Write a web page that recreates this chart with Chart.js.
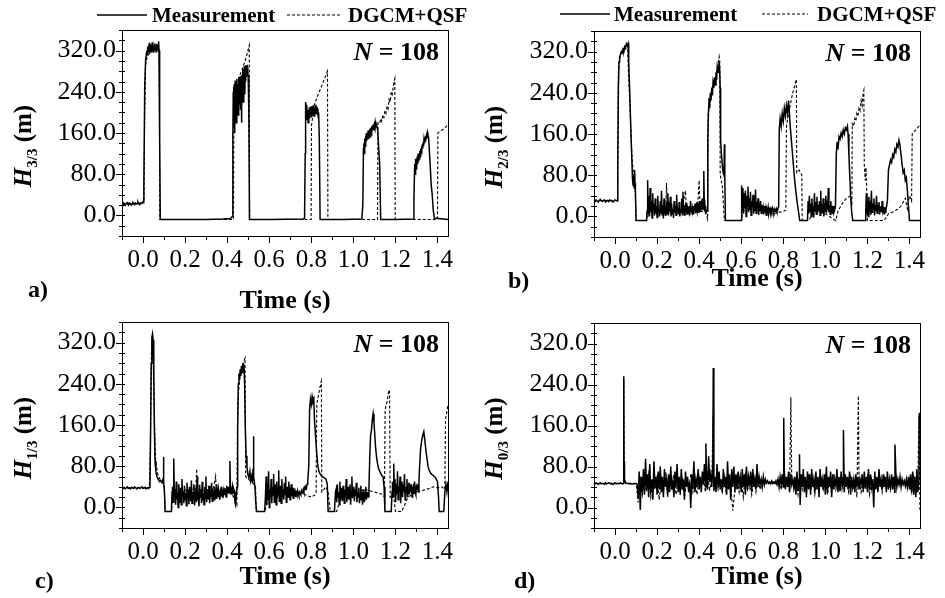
<!DOCTYPE html>
<html>
<head>
<meta charset="utf-8">
<script src="https://cdn.jsdelivr.net/npm/chart.js@4.4.0/dist/chart.umd.min.js"></script>
<style>
    body { margin: 0; background: #fff; }
    #wrap { position: relative; width: 945px; height: 598px; overflow: hidden; }
    canvas { position: absolute; }
</style>
</head>
<body>
<div id="wrap">
    <canvas id="chartA" width="472" height="320" style="left:0;top:0"></canvas>
    <canvas id="chartB" width="473" height="320" style="left:472px;top:0"></canvas>
    <canvas id="chartC" width="472" height="299" style="left:0;top:299px"></canvas>
    <canvas id="chartD" width="473" height="299" style="left:472px;top:299px"></canvas>
</div>
<script>
// axis ticks
const xLabels = [0, 0.2, 0.4, 0.6, 0.8, 1.0, 1.2, 1.4];
const yLabels = [0, 80, 160, 240, 320];

// ---- a) H 3/3 ----
const aMeasKeys = [
    [0.004, 60], [0.008, 250], [0.012, 300], [0.016, 315],
    [0.076, 320], [0.079, 150], [0.082, -8],
    [0.2, -8], [0.3, -8], [0.38, -7], [0.415, -6], [0.42, -4],
    [0.424, -2], [0.427, 150], [0.429, 240],
    [0.503, 200], [0.506, -8],
    [0.6, -8], [0.76, -7], [0.768, -6], [0.771, 120], [0.773, 220],
    [0.838, 150], [0.842, -8],
    [0.95, -8], [1.04, -7], [1.045, 20], [1.048, 130],
    [1.115, 170], [1.125, 100], [1.13, -8],
    [1.2, -8], [1.285, -7], [1.288, 30], [1.291, 90],
    [1.358, 150], [1.365, 100], [1.37, 60], [1.375, 40], [1.38, 10], [1.385, -5], [1.45, -8]
];
const aMeasPre = [23, 21, 24, 22, 20, 23, 25, 22, 21, 24, 23, 20, 22, 25, 23, 21, 24, 22, 23, 26, 22, 21, 24, 23, 25, 27];
const aMeasP1 = [320, 312, 328, 318, 330, 322, 335, 315, 326, 332, 318, 329, 324, 336, 320, 327, 331, 316, 325, 334, 322, 330, 318, 328, 333, 321, 326, 330, 338];
const aMeasP2 = [250, 170, 255, 160, 262, 200, 248, 180, 265, 210, 255, 195, 268, 230, 250, 215, 270, 205, 260, 180, 272, 240, 285, 220, 275, 250, 290, 235, 280, 260, 292, 270, 285, 288, 280, 270];
const aMeasP3 = [210, 185, 215, 190, 205, 180, 200, 192, 210, 188, 205, 195, 212, 200, 190, 208, 196, 214, 202, 193, 210, 205, 198, 215, 207, 200, 212, 196, 208, 190, 200];
const aMeasP4 = [140, 120, 150, 135, 155, 140, 160, 145, 158, 150, 165, 148, 162, 155, 168, 152, 170, 160, 172, 158, 175, 165, 170, 178, 168, 176, 172, 180, 174, 178, 175];
const aMeasP5 = [100, 80, 110, 90, 105, 95, 115, 100, 120, 105, 118, 110, 125, 115, 130, 120, 135, 125, 138, 130, 142, 135, 148, 140, 152, 145, 155, 150, 160, 155, 162, 158];
const aModel = [
    [-0.1, 23], [0.004, 24], [0.008, 200], [0.012, 290], [0.02, 310], [0.04, 318], [0.06, 322], [0.075, 326], [0.077, 320], [0.08, -8],
    [0.43, -8], [0.432, 200], [0.436, 250], [0.45, 262], [0.47, 282], [0.49, 306], [0.505, 330], [0.507, -8],
    [0.799, -8], [0.801, 175], [0.81, 200], [0.814, 214], [0.83, 232], [0.85, 252], [0.877, 280], [0.879, -8],
    [1.115, -8], [1.117, 180], [1.125, 178], [1.13, 188], [1.135, 183], [1.14, 195], [1.145, 190], [1.15, 203], [1.155, 198],
    [1.16, 212], [1.165, 207], [1.17, 225], [1.175, 220], [1.18, 240], [1.185, 235], [1.19, 252], [1.197, 265], [1.199, -8],
    [1.4, -8], [1.402, 160], [1.42, 165], [1.44, 172], [1.45, 178]
];

// ---- b) H 2/3 ----
const bMeasKeys = [
    [0.013, 100], [0.016, 250], [0.019, 300], [0.022, 310], [0.026, 315], [0.03, 320], [0.034, 318], [0.038, 325], [0.042, 322],
    [0.046, 330], [0.05, 328], [0.054, 335], [0.058, 332], [0.062, 336],
    [0.065, 300], [0.07, 240], [0.075, 170], [0.08, 110], [0.083, 72], [0.086, 60], [0.089, 80], [0.091, 55], [0.093, 90],
    [0.095, 65], [0.097, 50], [0.1, -8], [0.15, -8],
    [0.438, 10], [0.441, 150], [0.444, 200], [0.447, 230], [0.45, 210], [0.453, 240], [0.456, 225], [0.46, 250], [0.463, 235],
    [0.466, 260], [0.47, 250], [0.473, 270], [0.476, 255], [0.48, 280], [0.483, 265], [0.486, 290], [0.49, 280], [0.494, 300],
    [0.497, 290], [0.5, 250], [0.502, 150], [0.506, 120], [0.51, 100], [0.514, 85], [0.518, 80], [0.52, 140], [0.522, 70],
    [0.525, -8], [0.6, -8],
    [0.778, 20], [0.781, 170], [0.785, 190], [0.79, 175], [0.795, 200], [0.8, 185], [0.805, 210], [0.81, 195], [0.815, 215],
    [0.82, 200], [0.825, 225], [0.828, 210], [0.832, 180], [0.838, 150], [0.843, 125], [0.848, 100], [0.853, 75], [0.858, 55],
    [0.865, 30], [0.872, 10], [0.878, -8], [0.915, -8],
    [1.048, 20], [1.052, 120], [1.056, 145], [1.06, 130], [1.065, 155], [1.07, 150], [1.075, 162], [1.08, 155], [1.085, 168],
    [1.09, 160], [1.095, 172], [1.1, 168], [1.105, 175], [1.108, 160], [1.112, 120], [1.116, 80], [1.12, 40], [1.125, 10],
    [1.13, -8], [1.19, -8],
    [1.295, 30], [1.3, 90], [1.305, 100], [1.31, 110], [1.315, 105], [1.32, 120], [1.325, 115], [1.33, 130], [1.335, 125],
    [1.34, 140], [1.345, 135], [1.35, 148], [1.354, 140], [1.36, 120], [1.365, 100], [1.37, 85], [1.375, 90], [1.38, 70],
    [1.385, 75], [1.39, 50], [1.395, 20], [1.4, -8], [1.45, -8]
];
const bMeasPre = [31, 29, 32, 30, 28, 31, 33, 30, 29, 31, 32, 28, 30, 31, 29, 32, 30, 31, 28, 30, 32, 31, 30];
const bMeasN1 = [10, 70, 5, 40, 0, 55, 8, 30, -3, 45, 12, 25, 2, 35, 6, 20, -2, 40, 10, 15, 0, 30, 5, 50, 3, 22, -4, 35, 8, 12,
    1, 28, 6, 45, 2, 18, 9, 38, 0, 25, 5, 15, -3, 30, 7, 20, 2, 42, 10, 16, 4, 28, 0, 12, 8, 35, 3, 48, 6, 22,
    1, 18, 10, 26, 4, 14, 9, 20, 2, 30, 12, 8, 16, 5, 20, 10, 25, 6, 18, 12, 28, 8, 20, 15, 30, 10, 22, 12, 35, 15, 88, 10, 20, 5, 12];
const bMeasN2 = [60, 10, 55, 5, 45, 15, 50, 0, 40, 20, 58, 8, 35, 12, 48, 2, 30, 18, 42, 5, 38, 10, 52, 6, 28, 14, 35, 3, 25, 10,
    30, 6, 22, 12, 18, 4, 20, 8, 15, 2, 14, 10, 18, 6, 12, 15, 8, 14, 10, 16, 12, 8, 14, 10, 12, 15, 10, 12];
const bMeasN3 = [30, 5, 40, 10, 25, 0, 35, 8, 20, -2, 45, 12, 28, 4, 38, 6, 22, 10, 30, 2, 50, 8, 18, 14, 35, 0, 26, 10, 40, 6,
    20, 12, 55, 8, 22, 4, 30, 10, 15, 5, 20, 8, 12];
const bMeasN4 = [10, 45, 5, 30, 0, 38, 12, 20, 3, 50, 8, 25, 15, 35, 2, 22, 10, 40, 6, 18, 12, 28, 4, 15, 20, 8, 30, 10, 14, 5, 18, 8, 12];
const bModel = [
    [-0.1, 31], [0.012, 31], [0.016, 280], [0.02, 305], [0.03, 315], [0.05, 325], [0.06, 332], [0.062, 300], [0.07, 220],
    [0.08, 120], [0.09, 70], [0.095, 60], [0.1, -8], [0.15, -8],
    [0.16, 5], [0.18, 20], [0.2, 10], [0.22, 25], [0.24, 5], [0.245, 65], [0.25, 5], [0.27, 15], [0.3, 8], [0.32, 20], [0.335, 50],
    [0.34, 5], [0.36, 15], [0.38, 10], [0.395, 35], [0.4, 70], [0.405, 10], [0.43, 8], [0.44, -5],
    [0.443, 200], [0.46, 240], [0.48, 270], [0.495, 310], [0.498, 300], [0.5, 80], [0.51, 60], [0.52, -8], [0.6, -8],
    [0.61, 10], [0.65, 20], [0.7, 15], [0.75, 5], [0.8, 10], [0.812, 12], [0.815, 175], [0.83, 210], [0.845, 240], [0.862, 266],
    [0.864, 85], [0.875, 90], [0.888, 80], [0.89, -8], [0.92, -8], [0.95, 10], [1.0, 5], [1.05, -8], [1.06, 10], [1.08, 25],
    [1.1, 35], [1.12, 40], [1.126, 20], [1.128, 180], [1.135, 175], [1.14, 190], [1.145, 185], [1.15, 200], [1.155, 195],
    [1.16, 210], [1.165, 205], [1.17, 225], [1.175, 215], [1.18, 240], [1.183, 245], [1.185, 100], [1.19, 70], [1.193, 95],
    [1.196, 60], [1.2, -8], [1.28, -8], [1.3, 5], [1.33, 10], [1.36, 20], [1.38, 35], [1.39, 15], [1.4, 40], [1.41, 30],
    [1.413, 160], [1.43, 168], [1.45, 178]
];

// ---- c) H 1/3 ----
const cMeasKeys = [
    [0.033, 40], [0.036, 150], [0.039, 280], [0.042, 330], [0.045, 337], [0.048, 325], [0.051, 250], [0.054, 150], [0.057, 90],
    [0.061, 70], [0.066, 60], [0.072, 55], [0.078, 50], [0.084, 52], [0.09, 48], [0.095, 55], [0.097, 98], [0.099, 50],
    [0.102, 30], [0.105, -8], [0.135, -8], [0.138, 30],
    [0.447, 40], [0.45, 150], [0.453, 240], [0.456, 260], [0.459, 248], [0.462, 268], [0.465, 255], [0.468, 275], [0.471, 262],
    [0.474, 280], [0.477, 270], [0.48, 278], [0.483, 240], [0.486, 160], [0.49, 100], [0.494, 80], [0.498, 65], [0.503, 58],
    [0.508, 70], [0.512, 52], [0.516, 60], [0.52, 48], [0.523, 75], [0.525, 138], [0.527, 60], [0.532, 40], [0.536, 10],
    [0.54, -8], [0.578, -8], [0.582, 20],
    [0.788, 80], [0.792, 190], [0.796, 210], [0.8, 200], [0.804, 215], [0.808, 205], [0.812, 210], [0.815, 170], [0.82, 140],
    [0.825, 110], [0.83, 85], [0.836, 70], [0.842, 65], [0.85, 60], [0.86, 58], [0.87, 55], [0.876, 45], [0.88, -8],
    [0.91, -8], [0.915, 30],
    [1.078, 100], [1.082, 140], [1.086, 150], [1.09, 170], [1.094, 182], [1.098, 165], [1.102, 140], [1.106, 115], [1.11, 99],
    [1.115, 85], [1.12, 75], [1.128, 68], [1.135, 62], [1.141, 60], [1.146, 40], [1.15, -8], [1.18, -8], [1.184, 30],
    [1.315, 80], [1.32, 115], [1.325, 130], [1.33, 140], [1.335, 147], [1.34, 130], [1.345, 110], [1.35, 95], [1.355, 80],
    [1.36, 72], [1.37, 65], [1.38, 62], [1.39, 58], [1.4, 50], [1.405, 20], [1.408, -8], [1.43, -8], [1.435, 30], [1.44, 45],
    [1.445, 30], [1.45, 50]
];
const cMeasPre = [38, 37, 39, 36, 38, 40, 37, 38, 36, 39, 38, 37, 40, 38, 36, 38, 39, 37, 38, 40, 37, 38, 39, 36, 38, 37, 39];
const cMeasN1 = [40, 10, 95, 20, 35, 5, 50, 15, 30, 0, 45, 25, 10, 38, 5, 55, 20, 32, 8, 42, 15, 28, 3, 48, 18, 35, 6, 40, 22, 12,
    52, 8, 30, 16, 45, 4, 26, 38, 10, 60, 14, 30, 2, 44, 20, 35, 8, 50, 12, 28, 5, 40, 18, 60, 10, 25, 35, 15, 42, 8,
    30, 20, 48, 12, 36, 24, 15, 40, 28, 18, 45, 30, 20, 35, 25, 15, 30, 22, 40, 28, 18, 32, 25, 38, 30, 20, 42, 35, 28, 40,
    30, 90, 25, 35, 30, 40, 28, 36, 32, 10, 5, 20];
const cMeasN2 = [60, 5, 45, 15, 70, 0, 35, 20, 55, 8, 40, 25, 65, 10, 30, 45, 5, 50, 18, 38, 72, 12, 28, 42, 8, 55, 20, 35, 15, 48,
    25, 60, 10, 30, 40, 20, 50, 28, 15, 35, 45, 22, 30, 18, 38, 25, 30, 20, 28, 24, 32, 26, 22, 30, 28, 25, 32, 28, 30, 35,
    30, 38, 35, 40, 38, 45, 50];
const cMeasN3 = [35, 10, 45, 20, 30, 5, 50, 15, 38, 25, 12, 42, 28, 8, 35, 20, 55, 10, 30, 40, 15, 25, 45, 5, 32, 60, 18, 28, 40, 12,
    35, 22, 48, 10, 30, 20, 38, 8, 25, 42, 15, 30, 5, 35, 20, 10, 28, 40, 15, 25, 30, 20, 35];
const cMeasN4 = [50, 20, 85, 30, 55, 10, 45, 25, 70, 15, 40, 30, 60, 8, 35, 50, 20, 45, 30, 65, 15, 40, 28, 55, 20, 35, 48, 25, 38, 30,
    45, 20, 35, 40, 28, 50, 30, 25, 40, 35, 45, 30, 50];
const cModel = [
    [-0.1, 38], [0.03, 38], [0.035, 120], [0.04, 300], [0.045, 332], [0.05, 300], [0.055, 160], [0.06, 90], [0.07, 65],
    [0.08, 55], [0.09, 50], [0.1, 45], [0.105, -8], [0.135, -8], [0.14, 25], [0.16, 30], [0.18, 20], [0.2, 35], [0.22, 25],
    [0.24, 40], [0.25, 20], [0.255, 75], [0.26, 15], [0.28, 35], [0.3, 20], [0.31, 40], [0.33, 25], [0.345, 60], [0.35, 20],
    [0.37, 35], [0.4, 30], [0.42, 35], [0.44, 10], [0.446, 5], [0.45, 200], [0.46, 255], [0.47, 268], [0.48, 285], [0.485, 290],
    [0.488, 60], [0.5, 55], [0.52, 48], [0.535, 40], [0.538, -8], [0.578, -8], [0.6, 20], [0.65, 30], [0.7, 25], [0.75, 28],
    [0.8, 20], [0.82, 25], [0.823, 30], [0.826, 200], [0.835, 220], [0.845, 240], [0.848, 245], [0.85, 30], [0.87, 40],
    [0.88, 30], [0.89, -8], [0.92, -8], [0.95, 30], [1.0, 25], [1.05, 35], [1.1, 30], [1.14, 25], [1.148, 20], [1.151, 190],
    [1.16, 205], [1.168, 225], [1.172, 228], [1.175, 20], [1.19, 30], [1.2, -8], [1.23, -8], [1.26, 20], [1.3, 30], [1.35, 35],
    [1.38, 40], [1.4, 38], [1.42, 40], [1.435, 35], [1.438, 170], [1.45, 200]
];

// ---- d) H 0/3 ----
const dMeasKeys = [
    [0.041, 50], [0.042, 256], [0.043, 60], [0.044, 90], [0.046, 55], [0.05, 48], [0.06, 47], [0.08, 46], [0.1, 47], [0.106, 45],
    [0.432, 125], [0.467, 272], [0.802, 175], [0.877, 104], [1.086, 151], [1.331, 123], [1.447, 185]
];
const dMeasPre = [47, 46, 48, 47, 45, 47, 48, 46, 47, 47, 45, 48, 46, 47, 48, 47, 46, 47, 45, 47, 48, 46, 47, 47, 46, 48, 47, 46, 47];
const dMeasN = [
    20, 70, -5, 60, 30, 75, 25, 95, 35, 65, 20, 85, 30, 55, 15, 90, 40, 60, 25, 70,
    35, 80, 30, 60, 20, 75, 40, 55, 25, 65, 30, 80, 35, 50, 20, 70, 40, 85, 30, 60,
    25, 75, 35, 55, 15, 70, 40, 60, 30, 50, -1, 65, 35, 90, 30, 55, 40, 75, 35, 60,
    30, 70, 45, 85, 40, 55, 35, 100, 50, 65, 40, 80, 35, 60, 30, 85, 40, 70, 35, 55,
    30, 75, 40, 60, 25, 90, 35, 65, 15, 75, 40, 80, 30, 65, 35, 70, 45, 60, 30, 75,
    40, 65, 25, 80, 35, 60, 45, 70, 30, 75, 40, 55, 35, 85, 40, 60, 45, 55, 40, 60,
    45, 55, 48, 52, 47, 50, 46, 52, 48, 50, 47, 52, 45, 55, 40, 60, 45, 65, 40, 70,
    35, 60, 40, 70, 30, 65, 45, 55, 40, 60, 25, 70, 35, 55, 5, 65, 40, 75, 30, 60,
    20, 70, 35, 65, 25, 75, 40, 55, 30, 70, 35, 60, 20, 75, 40, 55, 35, 65, 25, 80,
    30, 60, 40, 70, 20, 65, 35, 55, 40, 75, 30, 60, 35, 70, 40, 55, 30, 65, 40, 60,
    35, 70, 25, 60, 40, 55, 30, 65, 40, 60, 35, 55, 45, 65, 30, 70, 40, 60, 30, 75,
    35, 65, 40, 55, 0, 70, 35, 60, 30, 75, 40, 55, 35, 65, 40, 60, 30, 70, 35, 55,
    40, 65, 35, 60, 30, 70, 40, 55, 45, 60, 40, 55, 45, 52, 42, 55, 40, 60, 35, 65,
    30, 70, 25, 60, 20, 75, 30, 55
];
const dModelKeys = [
    [-0.1, 47], [0.04, 47], [0.0415, 250], [0.043, 60], [0.05, 48], [0.1, 47],
    [0.4665, 180], [0.836, 215], [1.157, 218], [1.445, 180]
];
const dModelN = [
    10, 60, 25, 55, 30, 65, 20, 50, 35, 60, 15, 55, 30, 70, 20, 50, 35, 65, 25, 55,
    30, 60, 20, 55, 35, 65, 30, 50, 25, 60, 40, 55, 30, 65, 35, 50, 30, 60, 35, 55,
    30, 60, 25, 55, 40, -6, 35, 60, 30, 55, 20, 65, 35, 50, 25, 60, 30, 55, 35, 50,
    45, 50, 47, 49, 46, 50, 45, 55, 35, 60, 40, 55, 30, 60, 35, 55, 25, 60, 35, 55,
    30, 60, 35, 55, 25, 60, 30, 55, 35, 60, 25, 55, 30, 65, 35, 55, 30, 60, 35, 55,
    30, 60, 35, 55, 20, 60, 30, 55, 35, 60, 25, 55, 30, 60, 35, 55, 30, 60, 40, 55,
    35, 60, 40, 55, 45, 52, 45, 50, 40, 55, 30, 60, 25, 55, -5
];

// merge key points and evenly sampled blocks [start, step, values]
function buildSeries(keys, blocks) {
    const pts = keys.map(p => ({ x: p[0], y: p[1] }));
    blocks.forEach(b => {
        b[2].forEach((v, i) => pts.push({ x: +(b[0] + i * b[1]).toFixed(4), y: v }));
    });
    return pts.sort((p, q) => p.x - q.x);
}

const SERIF = '"Liberation Serif", "Times New Roman", serif';
const Y_AXIS_W = 80;
const X_AXIS_H = 40;

function isMajor(v, list) {
    return list.some(m => Math.abs(m - v) < 1e-6);
}

const decoPlugin = {
    id: 'deco',
    afterDraw(chart, args, o) {
        const { ctx, chartArea: a, scales: { x, y } } = chart;
        ctx.save();
        ctx.strokeStyle = '#000';
        ctx.fillStyle = '#000';
        ctx.lineWidth = 1;
        ctx.strokeRect(a.left + 0.5, a.top + 0.5, a.right - a.left, a.bottom - a.top);

        // ticks (major with label, minor without)
        ctx.beginPath();
        x.ticks.forEach(t => {
            const px = Math.round(x.getPixelForValue(t.value)) + 0.5;
            const len = isMajor(t.value, xLabels) ? 7 : 4;
            ctx.moveTo(px, a.bottom);
            ctx.lineTo(px, a.bottom + len);
        });
        y.ticks.forEach(t => {
            const py = Math.round(y.getPixelForValue(t.value)) + 0.5;
            const len = isMajor(t.value, yLabels) ? 6 : 3;
            ctx.moveTo(a.left - len, py);
            ctx.lineTo(a.left + 3, py);
        });
        ctx.stroke();

        // y title  H_sub (m)
        ctx.save();
        ctx.translate(o.titleX, (a.top + a.bottom) / 2 + 13);
        ctx.rotate(-Math.PI / 2);
        ctx.textBaseline = 'alphabetic';
        ctx.font = 'italic bold 25px ' + SERIF;
        const w1 = ctx.measureText('H').width;
        ctx.font = 'bold 15px ' + SERIF;
        const w2 = ctx.measureText(o.sub).width;
        ctx.font = 'bold 25px ' + SERIF;
        const w3 = ctx.measureText(' (m)').width;
        let sx = -(w1 + w2 + w3) / 2;
        ctx.font = 'italic bold 25px ' + SERIF;
        ctx.fillText('H', sx, 0);
        ctx.font = 'bold 15px ' + SERIF;
        ctx.fillText(o.sub, sx + w1, 6);
        ctx.font = 'bold 25px ' + SERIF;
        ctx.fillText(' (m)', sx + w1 + w2, 0);
        ctx.restore();

        // N = 108
        ctx.textAlign = 'right';
        ctx.font = 'bold 26px ' + SERIF;
        const rest = ' = 108';
        const wr = ctx.measureText(rest).width;
        ctx.fillText(rest, a.right - 9, a.top + 30);
        ctx.font = 'italic bold 26px ' + SERIF;
        ctx.fillText('N', a.right - 9 - wr, a.top + 30);

        // x title and panel letter
        ctx.textAlign = 'center';
        ctx.font = 'bold 26px ' + SERIF;
        ctx.fillText('Time (s)', (a.left + a.right) / 2, o.timeY);
        ctx.textAlign = 'left';
        ctx.font = 'bold 24px ' + SERIF;
        ctx.fillText(o.label, o.labelX, o.labelY);

        // legend (top row only)
        if (o.legend) {
            const L = o.legend;
            ctx.font = 'bold 21px ' + SERIF;
            ctx.lineWidth = 1.3;
            ctx.beginPath();
            ctx.moveTo(L.solid[0], L.lineY);
            ctx.lineTo(L.solid[1], L.lineY);
            ctx.stroke();
            ctx.fillText('Measurement', L.text1, L.base);
            ctx.lineWidth = 1;
            ctx.setLineDash([3, 2]);
            ctx.beginPath();
            ctx.moveTo(L.dash[0], L.lineY);
            ctx.lineTo(L.dash[1], L.lineY);
            ctx.stroke();
            ctx.setLineDash([]);
            ctx.fillText('DGCM+QSF', L.text2, L.base);
        }
        ctx.restore();
    }
};

function makeChart(id, meas, model, cfg) {
    const canvas = document.getElementById(id);
    const CW = canvas.width, CH = canvas.height;
    return new Chart(canvas, {
        type: 'line',
        data: {
            datasets: [
                { data: meas, borderColor: '#000', borderWidth: 1.5, pointRadius: 0, tension: 0 },
                { data: model, borderColor: '#000', borderWidth: 1.1, borderDash: [3, 2], pointRadius: 0, tension: 0 }
            ]
        },
        options: {
            responsive: false,
            animation: false,
            devicePixelRatio: 1,
            events: [],
            layout: {
                padding: {
                    left: cfg.left - Y_AXIS_W,
                    right: CW - cfg.right,
                    top: cfg.top,
                    bottom: CH - cfg.bottom - X_AXIS_H
                }
            },
            plugins: { legend: { display: false }, tooltip: { enabled: false }, deco: cfg },
            scales: {
                x: {
                    type: 'linear', min: -0.1, max: 1.45,
                    afterFit: s => { s.height = X_AXIS_H; },
                    grid: { display: false, drawTicks: false },
                    border: { display: false },
                    ticks: {
                        stepSize: 0.1, autoSkip: false, includeBounds: false, maxRotation: 0, padding: 9, color: '#000',
                        font: { family: SERIF, size: 25 },
                        callback: v => isMajor(v, xLabels) ? v.toFixed(1) : ''
                    }
                },
                y: {
                    type: 'linear', min: -40, max: 360,
                    afterFit: s => { s.width = Y_AXIS_W; },
                    grid: { display: false, drawTicks: false },
                    border: { display: false },
                    ticks: {
                        stepSize: 20, autoSkip: false, padding: 6, color: '#000',
                        font: { family: SERIF, size: 26 },
                        callback: v => isMajor(v, yLabels) ? v.toFixed(1) : ''
                    }
                }
            }
        },
        plugins: [decoPlugin]
    });
}

makeChart('chartA',
    buildSeries(aMeasKeys, [[-0.1, 0.004, aMeasPre], [0.018, 0.002, aMeasP1], [0.43, 0.002, aMeasP2],
        [0.775, 0.002, aMeasP3], [1.05, 0.002, aMeasP4], [1.292, 0.002, aMeasP5]]),
    buildSeries(aModel, []),
    { left: 122, right: 448, top: 30, bottom: 236, sub: '3/3', label: 'a)', labelX: 28, labelY: 297, timeY: 308, titleX: 31,
      legend: { solid: [97, 147], dash: [287, 342], text1: 152, text2: 348, lineY: 15, base: 22 } });

makeChart('chartB',
    buildSeries(bMeasKeys, [[-0.1, 0.005, bMeasPre], [0.152, 0.003, bMeasN1], [0.602, 0.003, bMeasN2],
        [0.918, 0.003, bMeasN3], [1.192, 0.003, bMeasN4]]),
    buildSeries(bModel, []),
    { left: 122, right: 448, top: 31, bottom: 237, sub: '2/3', label: 'b)', labelX: 36, labelY: 288, timeY: 286, titleX: 30,
      legend: { solid: [88, 138], dash: [290, 336], text1: 142, text2: 345, lineY: 14, base: 21 } });

makeChart('chartC',
    buildSeries(cMeasKeys, [[-0.1, 0.005, cMeasPre], [0.14, 0.003, cMeasN1], [0.585, 0.003, cMeasN2],
        [0.918, 0.003, cMeasN3], [1.186, 0.003, cMeasN4]]),
    buildSeries(cModel, []),
    { left: 122, right: 448, top: 23, bottom: 229, sub: '1/3', label: 'c)', labelX: 35, labelY: 289, timeY: 285, titleX: 31 });

makeChart('chartD',
    buildSeries(dMeasKeys, [[-0.1, 0.005, dMeasPre], [0.11, 0.005, dMeasN]]),
    buildSeries(dModelKeys, [[0.11, 0.01, dModelN]]),
    { left: 122, right: 448, top: 24, bottom: 229, sub: '0/3', label: 'd)', labelX: 42, labelY: 289, timeY: 285, titleX: 30 });
</script>
</body>
</html>
